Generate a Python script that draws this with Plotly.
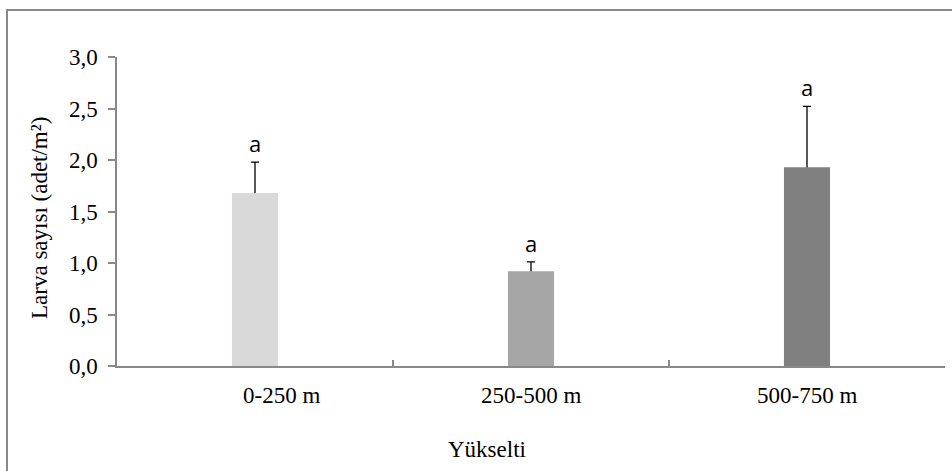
import plotly.graph_objects as go

categories = ["0-250 m", "250-500 m", "500-750 m"]
means = [1.68, 0.92, 1.93]
errors = [0.30, 0.09, 0.59]
letters = ["a", "a", "a"]
bar_colors = ["#d9d9d9", "#a6a6a6", "#808080"]
y_ticks = [0.0, 0.5, 1.0, 1.5, 2.0, 2.5, 3.0]
label_shift = [26, 0, 0]

W, H = 952, 471
L, R, T, B = 117, 7, 57, 105
pw, ph = W - L - R, H - T - B

def px_x(p):
    return (p - L) / pw

def px_y(p):
    return (H - B - p) / ph

serif = "Liberation Serif, Times New Roman, serif"
axis_col = "#898989"

fig = go.Figure()
# error bars underneath (lower half hidden by bars drawn on overlay axis)
fig.add_trace(go.Scatter(
    x=categories, y=means, mode="markers",
    marker=dict(size=1, color="rgba(0,0,0,0)"),
    error_y=dict(type="data", array=errors, color="black", thickness=1.3, width=4),
    showlegend=False, hoverinfo="skip",
))
fig.add_trace(go.Bar(
    x=categories, y=means, width=0.167, yaxis="y2",
    marker=dict(color=bar_colors, line=dict(width=0)),
    showlegend=False, hoverinfo="skip",
))

for c, m, e, t in zip(categories, means, errors, letters):
    fig.add_annotation(x=c, y=m + e, text=t, showarrow=False,
                       yanchor="middle", yshift=19,
                       font=dict(family="Open Sans, sans-serif", size=22, color="black"))

for c, s in zip(categories, label_shift):
    fig.add_annotation(x=c, xref="x", yref="paper", y=px_y(395), text=c,
                       showarrow=False, xanchor="center", yanchor="middle", xshift=s,
                       font=dict(family=serif, size=23, color="black"))

fig.add_annotation(xref="paper", yref="paper", x=px_x(487), y=px_y(450),
                   text="Yükselti", showarrow=False, xanchor="center", yanchor="middle",
                   font=dict(family=serif, size=23, color="black"))
fig.add_annotation(xref="paper", yref="paper", x=px_x(39), y=px_y(218),
                   text="Larva sayısı (adet/m²)", showarrow=False, textangle=-90,
                   xanchor="center", yanchor="middle",
                   font=dict(family=serif, size=23, color="black"))

fig.add_shape(type="rect", xref="paper", yref="paper",
              x0=px_x(7), x1=px_x(W + 5), y0=px_y(H + 5), y1=px_y(10),
              line=dict(color=axis_col, width=2), fillcolor="rgba(0,0,0,0)", layer="below")

fig.update_layout(
    width=W, height=H,
    margin=dict(l=L, r=R, t=T, b=B, pad=0),
    paper_bgcolor="white", plot_bgcolor="white",
    separators=",.",
    font=dict(family=serif, size=23, color="black"),
    xaxis=dict(type="category", range=[-0.5, 2.5], tickson="boundaries",
               ticks="inside", ticklen=6, tickcolor=axis_col, tickwidth=1.5,
               showline=True, linecolor=axis_col, linewidth=1.5,
               showgrid=False, zeroline=False, showticklabels=False),
    yaxis=dict(range=[0, 3], tickvals=y_ticks, tickformat=".1f",
               ticks="outside", ticklen=7, tickcolor=axis_col, tickwidth=1.5,
               showline=True, linecolor=axis_col, linewidth=1.5,
               showgrid=False, zeroline=False, ticklabelstandoff=6,
               tickfont=dict(family=serif, size=23, color="black")),
    yaxis2=dict(range=[0, 3], overlaying="y", visible=False,
                showgrid=False, zeroline=False),
)

fig.write_html("out.html", config={"displayModeBar": False},
               post_script="document.body.style.margin='0';document.body.style.overflow='hidden';")
